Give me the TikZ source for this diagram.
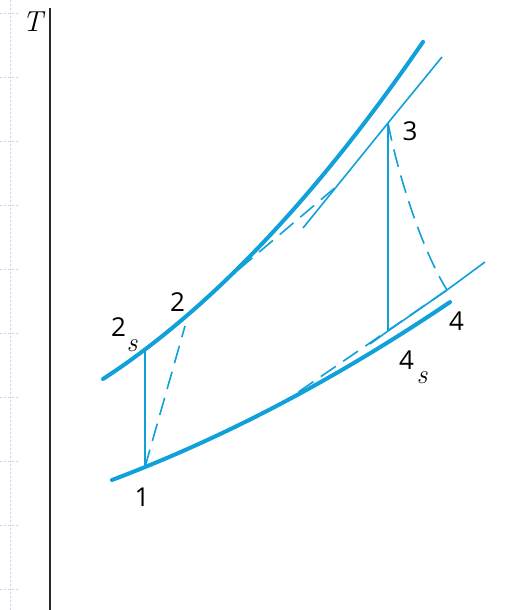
\documentclass[tikz,border=0pt]{standalone}
\usepackage{fontspec}
\newfontfamily\numfont{Open Sans}
\definecolor{cy}{RGB}{16,160,218}
\definecolor{gridc}{RGB}{200,210,250}
\definecolor{axc}{RGB}{40,40,40}
\begin{document}
\begin{tikzpicture}[x=1pt,y=-1pt,
  thickc/.style={cy, line width=4pt, line cap=round},
  thinc/.style={cy, line width=1.6pt},
  dsh/.style={cy, line width=1.6pt, dash pattern=on 18pt off 9pt},
  lbl/.style={inner sep=0pt, font=\numfont\fontsize{26}{26}\selectfont},
  sub/.style={inner sep=0pt, font=\fontsize{27}{27}\selectfont\itshape},
  gridl/.style={draw=gridc, line width=0.8pt, dash pattern=on 2pt off 2pt},
  axis/.style={draw=axc, line width=2pt}]
\fill[white] (0,0) rectangle (506,610);
\useasboundingbox (0,0) rectangle (506,610);
% faint background marks
\coordinate (g0) at (10,0);
\coordinate (g1) at (10,610);
\draw[gridl] (g0) -- (g1);
\foreach \yy in {13,77,141,205,269,333,397,461,525,589}{
  \draw[gridl] (0,\yy) -- (20,\yy);
}
% axis
\coordinate (ax0) at (50,8);
\coordinate (ax1) at (50,610);
\draw[axis] (ax0) -- (ax1);
\node[inner sep=0pt, font=\fontsize{29}{29}\selectfont\itshape] (T) at (32.5,22) {T};
% points
\coordinate (p1) at (145,467);
\coordinate (p2s) at (145,350);
\coordinate (p2) at (185,326);
\coordinate (p3) at (388,123);
\coordinate (p4s) at (388,331);
\coordinate (p4) at (447,290);
\coordinate (ut0) at (303,228);
\coordinate (ut1) at (442,57);
\coordinate (lt0) at (370,344);
\coordinate (lt1) at (485,262);
\coordinate (d2a) at (218,287);
\coordinate (d2b) at (337,186);
\coordinate (d4b) at (278,406);
% isobars
\draw[thickc] plot[domain=103:423,samples=80] (\x,{379-0.785*(\x-103)-(0.0355*(\x-103))*(0.0355*(\x-210))});
\draw[thickc] plot[domain=112:450,samples=80] (\x,{480-0.436*(\x-112)-(0.021*(\x-112))*(0.021*(\x-245))});
\draw[thinc] (ut0) -- (p3) -- (ut1);
\draw[thinc] (lt0) -- (p4s) -- (p4) -- (lt1);
% processes
\draw[thinc] (p1) -- (p2s);
\draw[thinc] (p3) -- (p4s);
\draw[dsh] (p1) -- (p2);
\draw[dsh] (d2a) -- (d2b);
\draw[dsh] (p3) .. controls (398,175) and (422,250) .. (p4);
\draw[dsh] (p4) -- (d4b);
% labels
\node[lbl] (L1) at (142,497) {1};
\node[lbl] (L2) at (177.5,302.5) {2};
\node[lbl] (L2s) at (118.5,327.5) {2};
\node[sub] (S2s) at (132,346) {s};
\node[lbl] (L3) at (410,131) {3};
\node[lbl] (L4) at (456.5,321.5) {4};
\node[lbl] (L4s) at (406.5,360) {4};
\node[sub] (S4s) at (422,377.5) {s};
\end{tikzpicture}
\end{document}
